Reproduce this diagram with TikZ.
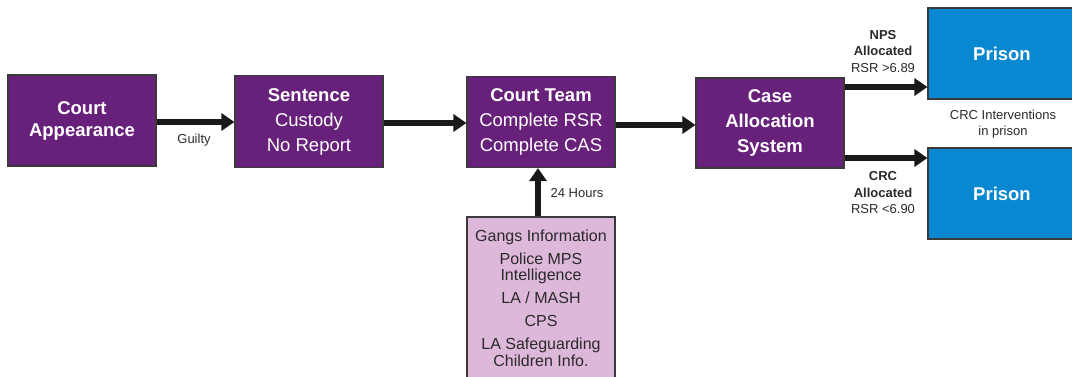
\documentclass[tikz,border=0pt]{standalone}
\usepackage{fontspec}
\setmainfont{Liberation Sans}
\usetikzlibrary{arrows.meta}

\definecolor{boxpurple}{HTML}{68217A}
\definecolor{boxblue}{HTML}{0888D0}
\definecolor{boxpink}{HTML}{DDB8DA}
\definecolor{edgegrey}{HTML}{3A3A3A}
\definecolor{labelgrey}{HTML}{2A2A2A}

\begin{document}
\begin{tikzpicture}[x=1pt,y=-1pt,
  stage/.style={draw=edgegrey, line width=1.1pt, fill=boxpurple, text=white,
    minimum width=148pt, minimum height=91pt, inner sep=0pt, align=center,
    font=\fontsize{18.5}{25}\selectfont},
  prisonbox/.style={stage, fill=boxblue, font=\bfseries\fontsize{18.5}{25}\selectfont},
  infobox/.style={draw=edgegrey, line width=1.1pt, fill=boxpink, text=labelgrey,
    minimum width=148pt, minimum height=162pt, inner sep=0pt, align=center,
    font=\fontsize{16}{16.5}\selectfont},
  lbl/.style={text=labelgrey, align=center, inner sep=0pt,
    font=\fontsize{13}{16.5}\selectfont},
  flow/.style={line width=5.5pt, black!90,
    -{Triangle[length=13pt,width=17pt]}}
]
\useasboundingbox (0,0) rectangle (1072,376);
\clip (0,0) rectangle (1072,376);

% main sequence of stages
\node[stage, font=\bfseries\fontsize{18.5}{22}\selectfont] (court) at (82,120.5)
  {Court\\Appearance};
\node[stage, minimum height=92pt] (sentence) at (309,121.5)
  {\textbf{Sentence}\\Custody\\No Report};
\node[stage] (team) at (541,122)
  {\textbf{Court Team}\\Complete RSR\\Complete CAS};
\node[stage, minimum height=90pt, font=\bfseries\fontsize{18.5}{25}\selectfont] (cas) at (770,123)
  {Case\\Allocation\\System};

% outcomes
\node[prisonbox] (prisonA) at (1002,53.5) {Prison};
\node[prisonbox] (prisonB) at (1002,193.5) {Prison};

% information sources feeding the court team
\node[infobox] (info) at (541,298)
  {Gangs Information\\[6.5pt]
   Police MPS\\Intelligence\\[6.5pt]
   LA / MASH\\[6.5pt]
   CPS\\[6.5pt]
   LA Safeguarding\\Children Info.};

% connectors
\draw[flow] ([yshift=-1.5pt]court.east) -- ([yshift=-1.5pt]court.east -| sentence.west);
\draw[flow] ([yshift=-1.5pt]sentence.east) -- ([yshift=-1.5pt]sentence.east -| team.west);
\draw[flow] ([yshift=-3pt]team.east) -- ([yshift=-3pt]team.east -| cas.west);
\draw[flow] ([yshift=36pt]cas.east) -- ([yshift=36pt]cas.east -| prisonA.west);
\draw[flow] ([yshift=-35pt]cas.east) -- ([yshift=-35pt]cas.east -| prisonB.west);
\draw[flow] ([xshift=-3pt]info.north) -- ([xshift=-3pt]team.south);

% connector labels
\node[lbl] (guilty) at (194,140) {Guilty};
\node[lbl] (hours) at (577,193) {24 Hours};
\node[lbl] (nps) at (883,51.5) {\textbf{NPS}\\\textbf{Allocated}\\RSR >6.89};
\node[lbl] (crc) at (883,193) {\textbf{CRC}\\\textbf{Allocated}\\RSR <6.90};
\node[lbl] (interv) at (1003,124) {CRC Interventions\\in prison};
\end{tikzpicture}
\end{document}
